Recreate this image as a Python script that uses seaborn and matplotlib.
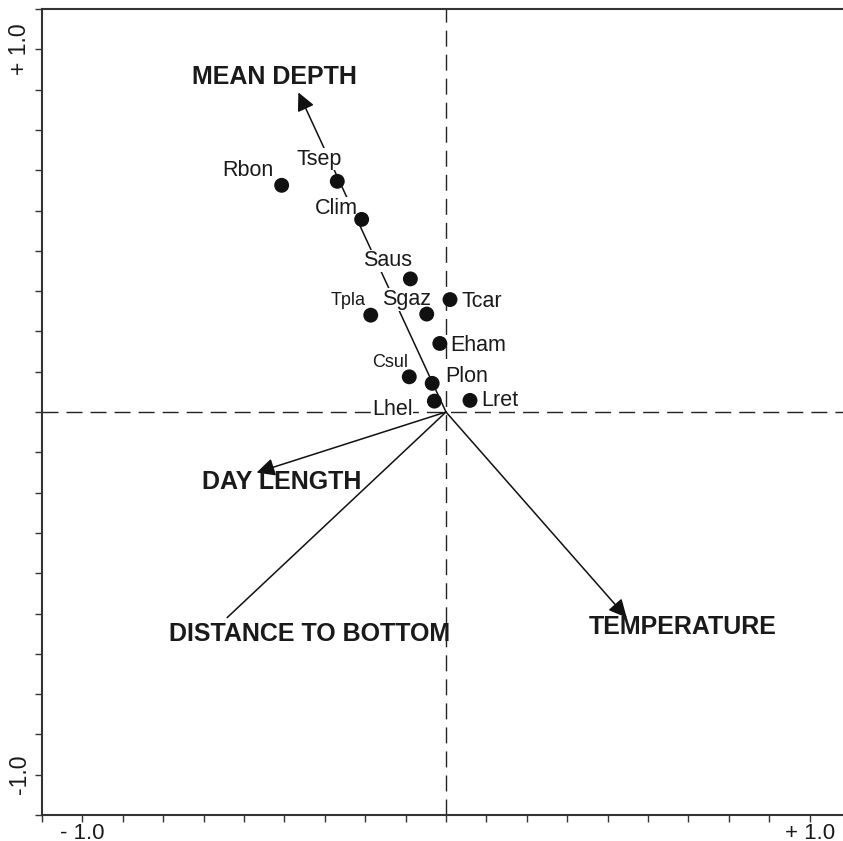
import matplotlib
matplotlib.use("Agg")
import matplotlib.pyplot as plt
import seaborn as sns
import pandas as pd
import numpy as np

# ---- data ----
species = ["Rbon", "Tsep", "Clim", "Saus", "Tpla", "Sgaz", "Tcar", "Eham", "Csul", "Plon", "Lhel", "Lret"]
species_x = [-0.452, -0.299, -0.232, -0.098, -0.207, -0.053, 0.011, -0.017, -0.101, -0.038, -0.032, 0.066]
species_y = [0.625, 0.636, 0.531, 0.367, 0.267, 0.270, 0.310, 0.189, 0.097, 0.079, 0.030, 0.032]

env_vars = ["MEAN DEPTH", "DAY LENGTH", "DISTANCE TO BOTTOM", "TEMPERATURE"]
env_x = [-0.406, -0.521, -0.602, 0.497]
env_y = [0.881, -0.167, -0.567, -0.567]

xtick_labels = ["- 1.0", "+ 1.0"]
ytick_labels = ["-1.0", "+ 1.0"]

# ---- layout (label placements, data coords) ----
species_label_xy = {
    "Rbon": (-0.614, 0.650), "Tsep": (-0.411, 0.682), "Clim": (-0.362, 0.546),
    "Saus": (-0.229, 0.402), "Sgaz": (-0.177, 0.295), "Tpla": (-0.316, 0.295),
    "Tcar": (0.043, 0.290), "Eham": (0.013, 0.168), "Csul": (-0.204, 0.124),
    "Plon": (-0.001, 0.083), "Lhel": (-0.204, -0.009), "Lret": (0.096, 0.017),
}
small_labels = {"Tpla", "Csul"}
env_label_xy = [(-0.473, 0.904), (-0.452, -0.213), (-0.374, -0.631), (0.651, -0.612)]
env_has_head = [True, True, False, True]

sns.set_style("white")
plt.rcParams["font.family"] = ["Liberation Sans", "DejaVu Sans"]

W, H = 843, 841
fig = plt.figure(figsize=(W / 100, H / 100), dpi=100)
ax = fig.add_axes([42 / W, (H - 815) / H, 808 / W, 806 / H])
lim = 10 / 9
ax.set_xlim(-lim, lim)
ax.set_ylim(-lim, lim)

dash = (0, (11.5, 5.8))
ax.axhline(0, color="#222222", lw=1.0, linestyle=dash, zorder=1)
ax.axvline(0, color="#222222", lw=1.0, linestyle=dash, zorder=1)

# environmental arrows
for name, ex, ey, (lx, ly), head in zip(env_vars, env_x, env_y, env_label_xy, env_has_head):
    style = "-|>,head_length=0.55,head_width=0.27" if head else "-"
    ax.annotate("", xy=(ex, ey), xytext=(0, 0),
                arrowprops=dict(arrowstyle=style, color="#111111", lw=1.1,
                                mutation_scale=20, shrinkA=0, shrinkB=0),
                zorder=2)
    ax.text(lx, ly, name, ha="center", va="baseline", fontsize=18,
            fontweight="bold", color="#1a1a1a", zorder=3)

# species labels
for name in species:
    lx, ly = species_label_xy[name]
    ax.text(lx, ly, name, ha="left", va="baseline",
            fontsize=13 if name in small_labels else 15.5, color="#1a1a1a",
            bbox=dict(facecolor="white", edgecolor="none", pad=0.5), zorder=3)

df = pd.DataFrame({"species": species, "x": species_x, "y": species_y})
sns.scatterplot(data=df, x="x", y="y", color="#111111", s=115, edgecolor="none",
                ax=ax, zorder=4, legend=False)

# axes styling
ax.set_xlabel("")
ax.set_ylabel("")
for side in ["left", "bottom", "top"]:
    ax.spines[side].set_color("#333333")
    ax.spines[side].set_linewidth(1.5)
ax.spines["right"].set_visible(False)

minor = np.arange(-10, 11) / 9
ax.set_xticks(minor, minor=True)
ax.set_yticks(minor, minor=True)
ax.set_xticks([-1, 1])
ax.set_yticks([-1, 1])
ax.set_xticklabels(xtick_labels)
ax.set_yticklabels(ytick_labels, rotation=90, va="center")
ax.tick_params(which="both", direction="out", length=5, width=1.0, color="#333333",
               bottom=True, left=True, top=False, right=False)
ax.tick_params(axis="x", which="major", labelsize=16, pad=1, labelcolor="#1a1a1a")
ax.tick_params(axis="y", which="major", labelsize=16.5, pad=3, labelcolor="#1a1a1a")

fig.savefig("out.png", dpi=100, facecolor="white")
